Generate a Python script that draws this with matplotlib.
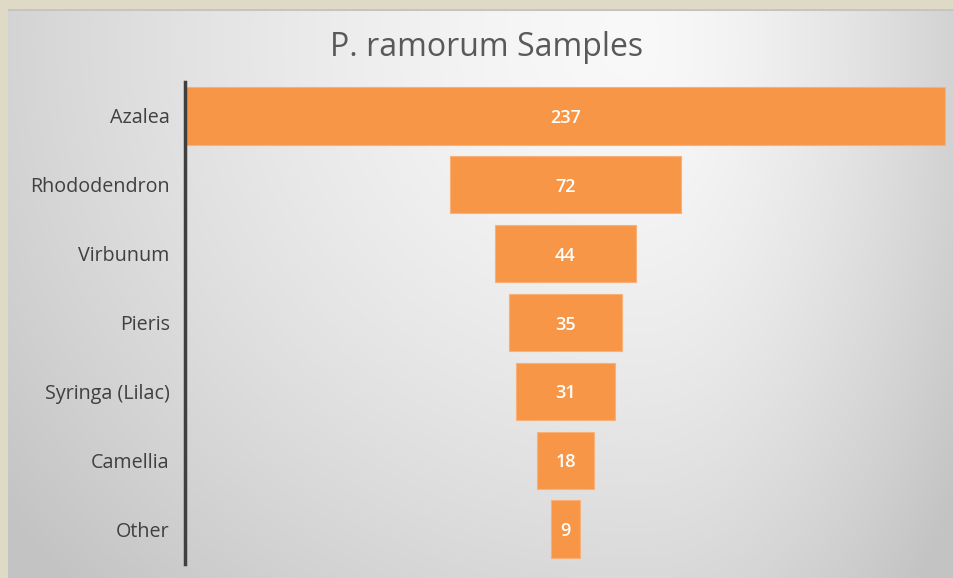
import numpy as np
import matplotlib
matplotlib.use("Agg")
import matplotlib.pyplot as plt

categories = ["Azalea", "Rhododendron", "Virbunum", "Pieris", "Syringa (Lilac)", "Camellia", "Other"]
values = [237, 72, 44, 35, 31, 18, 9]
title = "P. ramorum Samples"

W, H = 954, 578
fig = plt.figure(figsize=(W / 100, H / 100), dpi=100)
fig.patch.set_facecolor("#DFDAC5")

# background gradient panel
bg = fig.add_axes([8 / W, 0, 1 - 8 / W, 1 - 9 / H])
bg.set_axis_off()
ny, nx = 300, 500
yy, xx = np.mgrid[0:ny, 0:nx]
px = xx / (nx - 1) * (W - 8) + 8
py = yy / (ny - 1) * (H - 9) + 9
cx, cy = 640, 40
dx = px - cx
Lx = np.where(dx < 0, 760.0, 370.0)
Ly = 720.0
r = np.sqrt((dx / Lx) ** 2 + ((py - cy) / Ly) ** 2)
g = 0.975 - 0.19 * r ** 1.5
g = np.clip(g, 0.765, 1)
img = np.dstack([g, g, g])
bg.imshow(img, aspect="auto", extent=[0, 1, 0, 1], origin="upper", interpolation="bilinear")
bg.set_xlim(0, 1)
bg.set_ylim(0, 1)
bg.axhline(1 - 1 / (H - 9), color="#C4C4C4", lw=1.5)

font = "Open Sans"

ax = fig.add_axes([185 / W, 1 - 563.5 / H, (946 - 185) / W, (563.5 - 81.5) / H])
ax.patch.set_alpha(0)
y = np.arange(len(categories))
lefts = [-v / 2 for v in values]
ax.barh(y, values, left=lefts, height=0.83, color="#F79646", edgecolor="#F8B07A", linewidth=0.8)
for yi, v in zip(y, values):
    ax.text(0, yi + 0.03, str(v), ha="center", va="center", color="white", fontsize=13,
            family=font, fontweight="semibold")
ax.set_xlim(-118.9, 118.9)
ax.set_ylim(len(categories) - 0.5, -0.5)
ax.set_yticks(y)
ax.set_yticklabels(categories, family=font, fontsize=14.2, color="#404040")
ax.tick_params(axis="y", length=0, pad=11)
ax.set_xticks([])
for s in ["top", "right", "bottom"]:
    ax.spines[s].set_visible(False)
ax.spines["left"].set_color("#3F3F3F")
ax.spines["left"].set_linewidth(2.5)

fig.text(487 / W, 1 - 48 / H, title, ha="center", va="center", fontsize=23,
         color="#595959", family=font)

fig.savefig("out.png", dpi=100)
